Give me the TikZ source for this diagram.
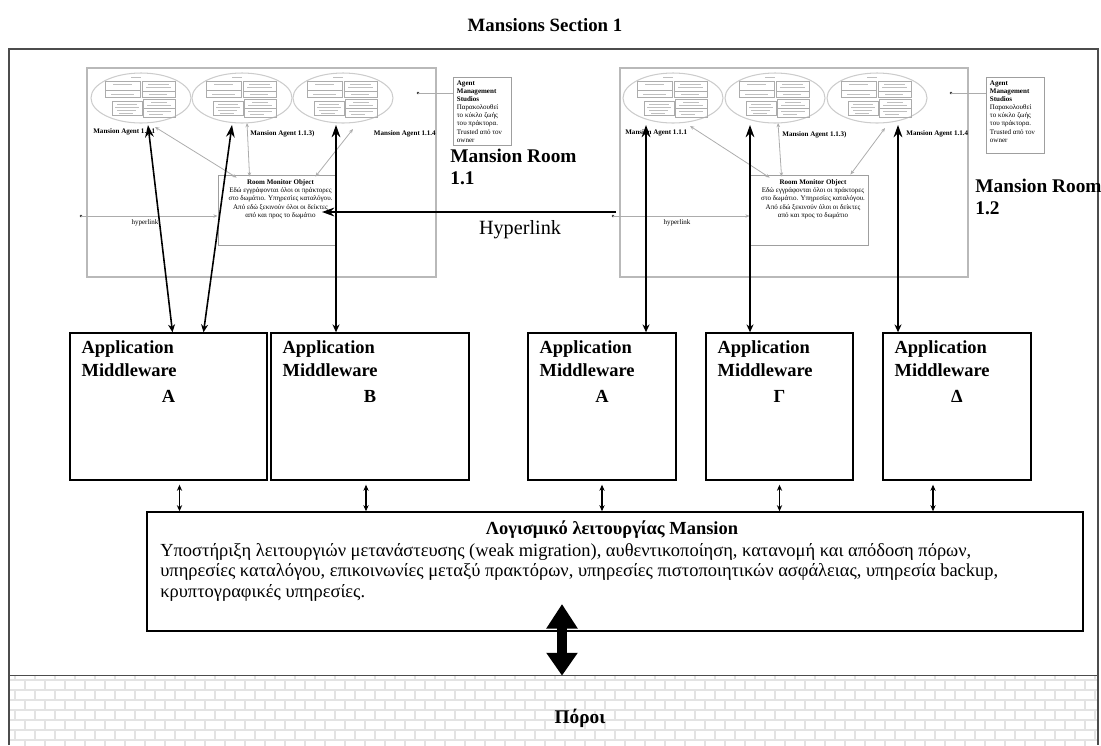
\documentclass[tikz,border=0pt]{standalone}
\usepackage{fontspec}
\setmainfont{Liberation Serif}
\usetikzlibrary{arrows.meta,patterns,fit}

\newcommand\tinytext{\fontsize{4}{4.6}\selectfont}

\tikzset{
  roombox/.style={draw=gray!55, line width=0.9pt, inner sep=0pt},
  mwbox/.style={draw, line width=0.8pt, inner sep=0pt},
  smallbox/.style={draw=gray!75, line width=0.5pt, inner sep=0pt},
  tinylabel/.style={font=\tinytext, inner sep=0pt},
  agentlabel/.style={font=\tinytext\bfseries, inner sep=0pt},
  roomlabel/.style={font=\bfseries\fontsize{11}{12.5}\selectfont, align=left, inner sep=0pt},
  mwlabel/.style={font=\bfseries\fontsize{10.5}{13}\selectfont, align=left, inner sep=0pt},
  greylink/.style={draw=gray!65, line width=0.45pt, -{Stealth[length=2.4pt,width=2pt]}},
  greyboth/.style={draw=gray!65, line width=0.45pt, {Stealth[length=2.4pt,width=2pt]}-{Stealth[length=2.4pt,width=2pt]}},
  bigarrow/.style={line width=0.9pt, {Stealth[length=4.5pt,width=4pt]}-{Stealth[length=7pt,width=5pt]}},
  smallarrow/.style={line width=0.6pt, {Stealth[length=3.5pt,width=3pt]}-{Stealth[length=3.5pt,width=3pt]}},
  agent/.pic={
    \coordinate (-c) at (0,0);
    \draw[gray!40, line width=0.6pt] (0,0) ellipse (50 and 25);
    \draw[gray!65, line width=0.3pt]
      (-36,-17) rectangle (-1,-1) (-36,-8) -- (-1,-8)
      (1,-17) rectangle (34,-1) (1,-7) -- (34,-7)
      (-29,3) rectangle (1,17)
      (2,1) rectangle (34,19) (2,10) -- (34,10);
    \draw[gray!50, line width=0.25pt]
      (-10,-21) -- (0,-21)
      (-28,-14) -- (-9,-14) (-30,-4) -- (-7,-4)
      (7,-14) -- (28,-14) (5,-11) -- (30,-11) (8,-4) -- (26,-4)
      (-24,6) -- (-4,6) (-26,9) -- (-2,9) (-24,12) -- (-5,12) (-22,15) -- (-8,15)
      (10,4) -- (26,4) (6,7) -- (30,7) (6,13) -- (30,13) (8,16) -- (22,16);
  },
}

\begin{document}
\begin{tikzpicture}[x=0.02cm, y=-0.02cm, >=Stealth]
  \useasboundingbox (0,0) rectangle (1101,745);

  % Section frame and resources strip
  \node[font=\bfseries\fontsize{10.7}{12}\selectfont] (title) at (545,25) {Mansions Section 1};
  \node[fit={(9,676) (1098,745)}, inner sep=0pt, pattern=bricks, pattern color=gray!22] (pool) {};
  \draw[gray!60!black, line width=0.8pt] (9,745) -- (9,49) -- (1098,49) -- (1098,745);
  \draw[gray!60!black, line width=0.9pt] (pool.north west) -- (pool.north east);
  \node[font=\bfseries\fontsize{11}{12}\selectfont] (poollabel) at (580,718) {Πόροι};

  % Mansion rooms
  \node[roombox, fit={(87,68) (436,277)}] (room11) {};
  \node[roombox, fit={(620,68) (968,277)}] (room12) {};
  \foreach \nm/\cx in {a11/141, a12/242, a13/343, a21/673, a22/775, a23/877}
    \pic (\nm) at (\cx,98) {agent};

  \node[agentlabel, anchor=west] (l11) at (93,132) {Mansion Agent 1.1.1};
  \node[agentlabel, anchor=west] (l13) at (250,134) {Mansion Agent 1.1.3)};
  \node[agentlabel, anchor=east] (l14) at (436,134) {Mansion Agent 1.1.4};
  \node[agentlabel, anchor=west] (l21) at (625,133) {Mansion Agent 1.1.1};
  \node[agentlabel, anchor=west] (l23) at (782,135) {Mansion Agent 1.1.3)};
  \node[agentlabel, anchor=west] (l24) at (906,134) {Mansion Agent 1.1.4};

  \node[roomlabel, anchor=north west] (rl11) at (450,149) {Mansion Room\\1.1};
  \node[roomlabel, anchor=north west] (rl12) at (975,179) {Mansion Room\\1.2};

  % Room monitor objects
  \node[smallbox, fill=white, fit={(218,175) (335,245)}] (mon11) {};
  \node[smallbox, fill=white, fit={(750,175) (868,245)}] (mon12) {};
  \foreach \m in {mon11, mon12}
    \node[tinylabel, align=center, anchor=north] at ([shift={(4,5)}]\m.north)
      {\textbf{Room Monitor Object}\\Εδώ εγγράφονται όλοι οι πράκτορες\\στο δωμάτιο. Υπηρεσίες καταλόγου.\\Από εδώ ξεκινούν όλοι οι δείκτες\\από και προς το δωμάτιο};

  % Agent management studios
  \node[smallbox, fit={(453,77) (511,145)}] (ams11) {};
  \node[smallbox, fit={(986,77) (1044,153)}] (ams12) {};
  \foreach \m in {ams11, ams12}
    \node[tinylabel, align=left, anchor=north west] at ([shift={(4,4)}]\m.north west)
      {\textbf{Agent}\\\textbf{Management}\\\textbf{Studios}\\Παρακολουθεί\\το κύκλο ζωής\\του πράκτορα.\\Trusted από τον\\owner};
  \coordinate (dot11) at (418,93);
  \coordinate (dot12) at (951,93);
  \foreach \d/\m in {dot11/ams11, dot12/ams12} {
    \fill[gray!40!black] (\d) circle (1.4);
    \draw[gray!65, line width=0.45pt] (\m.west |- \d) -- (\d);
  }

  % links from monitor objects to agents
  \draw[greyboth] ([shift={(19,3)}]mon11.north west) -- ([shift={(14,29)}]a11-c);
  \draw[greyboth] ([shift={(32,2)}]mon11.north west) -- ([shift={(5,25)}]a12-c);
  \draw[greyboth] ([shift={(-20,2)}]mon11.north east) -- ([shift={(10,31)}]a13-c);
  \draw[greyboth] ([shift={(20,3)}]mon12.north west) -- ([shift={(17,28)}]a21-c);
  \draw[greyboth] ([shift={(32,2)}]mon12.north west) -- ([shift={(3,25)}]a22-c);
  \draw[greyboth] ([shift={(-18,0)}]mon12.north east) -- ([shift={(8,30)}]a23-c);

  % hyperlinks
  \coordinate (hs11) at (81,216);
  \coordinate (hs12) at (613,216);
  \foreach \s/\m in {hs11/mon11, hs12/mon12} {
    \fill[gray!40!black] (\s) circle (1.3);
    \draw[greylink] (\s) -- (\s -| \m.west);
  }
  \node[tinylabel] (hl11) at (145,223) {hyperlink};
  \node[tinylabel] (hl12) at (677,223) {hyperlink};

  \coordinate (hltip) at (322,212);
  \draw[line width=0.9pt, -{Stealth[length=7pt,width=5pt]}] ([shift={(-3,0)}]room12.west |- hltip) -- (hltip);
  \node[font=\fontsize{11.5}{12}\selectfont] (hllabel) at (520,230) {Hyperlink};

  % Application middleware
  \foreach \nm/\xa/\xb/\lt in {mwA/70/267/A, mwB/271/469/B, mwAb/528/676/A, mwG/706/853/Γ, mwD/883/1031/Δ} {
    \node[mwbox, fit={(\xa,333) (\xb,480)}] (\nm) {};
    \node[mwlabel, anchor=north west] at ([shift={(12,8)}]\nm.north west) {Application\\Middleware};
    \node[mwlabel] at ([shift={(0,64)}]\nm.north) {\lt};
  }

  % arrows from middleware to agents
  \draw[bigarrow] ([shift={(4,0)}]mwA.north) -- ([shift={(7,27)}]a11-c);
  \draw[bigarrow] ([shift={(35,0)}]mwA.north) -- ([shift={(-10,27)}]a12-c);
  \coordinate (t13) at (336,125);
  \coordinate (t21) at (646,125);
  \coordinate (t22) at (750,125);
  \coordinate (t23) at (898,125);
  \foreach \t/\m in {t13/mwB, t21/mwAb, t22/mwG, t23/mwD}
    \draw[bigarrow] (\t |- \m.north) -- (\t);

  % Mansion software
  \node[mwbox, fill=white, fit={(147,512) (1083,631)}] (mansion) {};
  \foreach \m/\dx in {mwA/11, mwB/-4, mwAb/0, mwG/0, mwD/-24}
    \draw[smallarrow] ([shift={(\dx,4)}]\m.south) -- ([shift={(\dx,0)}]\m.south |- mansion.north);
  \node[font=\bfseries\fontsize{10.5}{12}\selectfont] (mtitle) at (612,530) {Λογισμικό λειτουργίας Mansion};
  \node[font=\fontsize{10.5}{11.6}\selectfont, align=left, anchor=north west, inner sep=0pt] (mbody) at (160,543)
    {Υποστήριξη λειτουργιών μετανάστευσης (weak migration), αυθεντικοποίηση, κατανομή και απόδοση πόρων,\\
     υπηρεσίες καταλόγου, επικοινωνίες μεταξύ πρακτόρων, υπηρεσίες πιστοποιητικών ασφάλειας, υπηρεσία backup,\\
     κρυπτογραφικές υπηρεσίες.};

  \coordinate (bigtop) at (562,604);
  \draw[line width=6pt, {Triangle[length=14pt,width=17pt]}-{Triangle[length=13pt,width=17pt]}] (bigtop) -- (bigtop |- pool.north);
\end{tikzpicture}
\end{document}
